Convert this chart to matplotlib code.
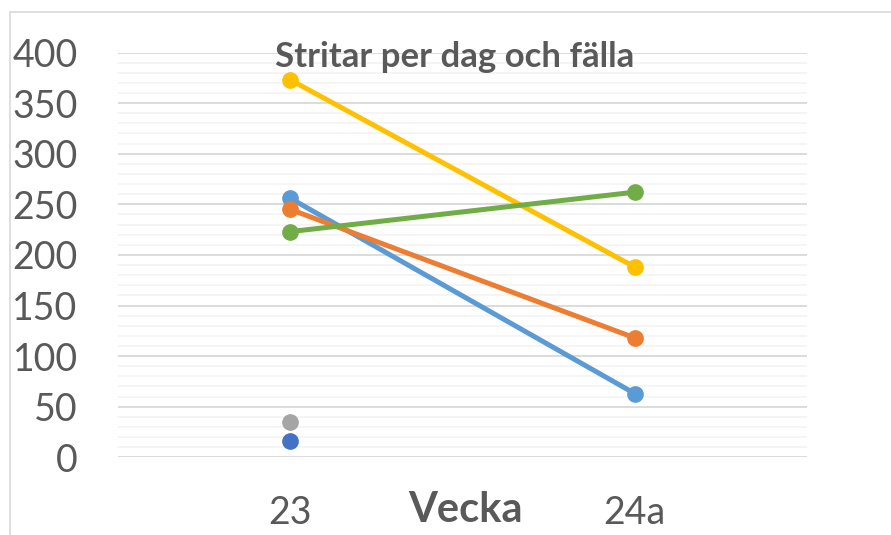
import matplotlib
matplotlib.use("Agg")
import matplotlib.pyplot as plt
from matplotlib.patches import Rectangle
import numpy as np

categories = ["23", "24a"]
series_names = ["Serie1", "Serie2", "Serie3", "Serie4", "Serie5", "Serie6"]
serie1 = [256, 63]
serie2 = [245, 118]
serie3 = [35, np.nan]
serie4 = [373, 188]
serie5 = [16, np.nan]
serie6 = [223, 262]
colors = ["#5B9BD5", "#ED7D31", "#A5A5A5", "#FFC000", "#4472C4", "#70AD47"]
yticks = [0, 50, 100, 150, 200, 250, 300, 350, 400]

plt.rcParams['font.family'] = ['Lato', 'DejaVu Sans']

W, H = 891, 535
fig = plt.figure(figsize=(W / 100, H / 100), dpi=100)
fig.patch.set_facecolor("white")

# chart border (cut at right/bottom)
fig.patches.append(Rectangle((10 / W, -0.1), 1.2, (H - 12) / H + 0.1,
                             transform=fig.transFigure, fill=False,
                             edgecolor="#D9D9D9", linewidth=1.2))

ax = fig.add_axes([118 / W, (H - 457.3) / H, (807 - 118) / W, 404.8 / H])
ax.set_xlim(-0.5, 1.5)
ax.set_ylim(0, 400)
for s in ax.spines.values():
    s.set_visible(False)

ax.set_yticks(yticks)
ax.set_yticks(np.arange(0, 401, 10), minor=True)
ax.grid(which="minor", axis="y", color="#F2F2F2", linewidth=1.1, zorder=0)
ax.grid(which="major", axis="y", color="#D9D9D9", linewidth=1.3, zorder=0)
ax.tick_params(axis="both", which="both", length=0)
ax.tick_params(axis="y", labelsize=27, labelcolor="#595959", pad=29)
ax.set_xticks(range(len(categories)))
ax.set_xticklabels(categories)
ax.tick_params(axis="x", labelsize=27, labelcolor="#595959", pad=27)
ax.set_axisbelow(True)

x = np.arange(len(categories))
all_series = [serie1, serie2, serie3, serie4, serie5, serie6]
for name, vals, c in zip(series_names, all_series, colors):
    ax.plot(x, vals, color=c, linewidth=3.6, marker="o", markersize=11,
            solid_capstyle="round", zorder=3, label=name)

fig.text(455 / W, 1 - 57 / H, "Stritar per dag och fälla", ha="center", va="center",
         fontsize=25, fontweight="bold", color="#595959")
fig.text(465 / W, 1 - 510 / H, "Vecka", ha="center", va="center",
         fontsize=30, fontweight="bold", color="#595959")

fig.savefig("out.png", dpi=100, facecolor="white")
